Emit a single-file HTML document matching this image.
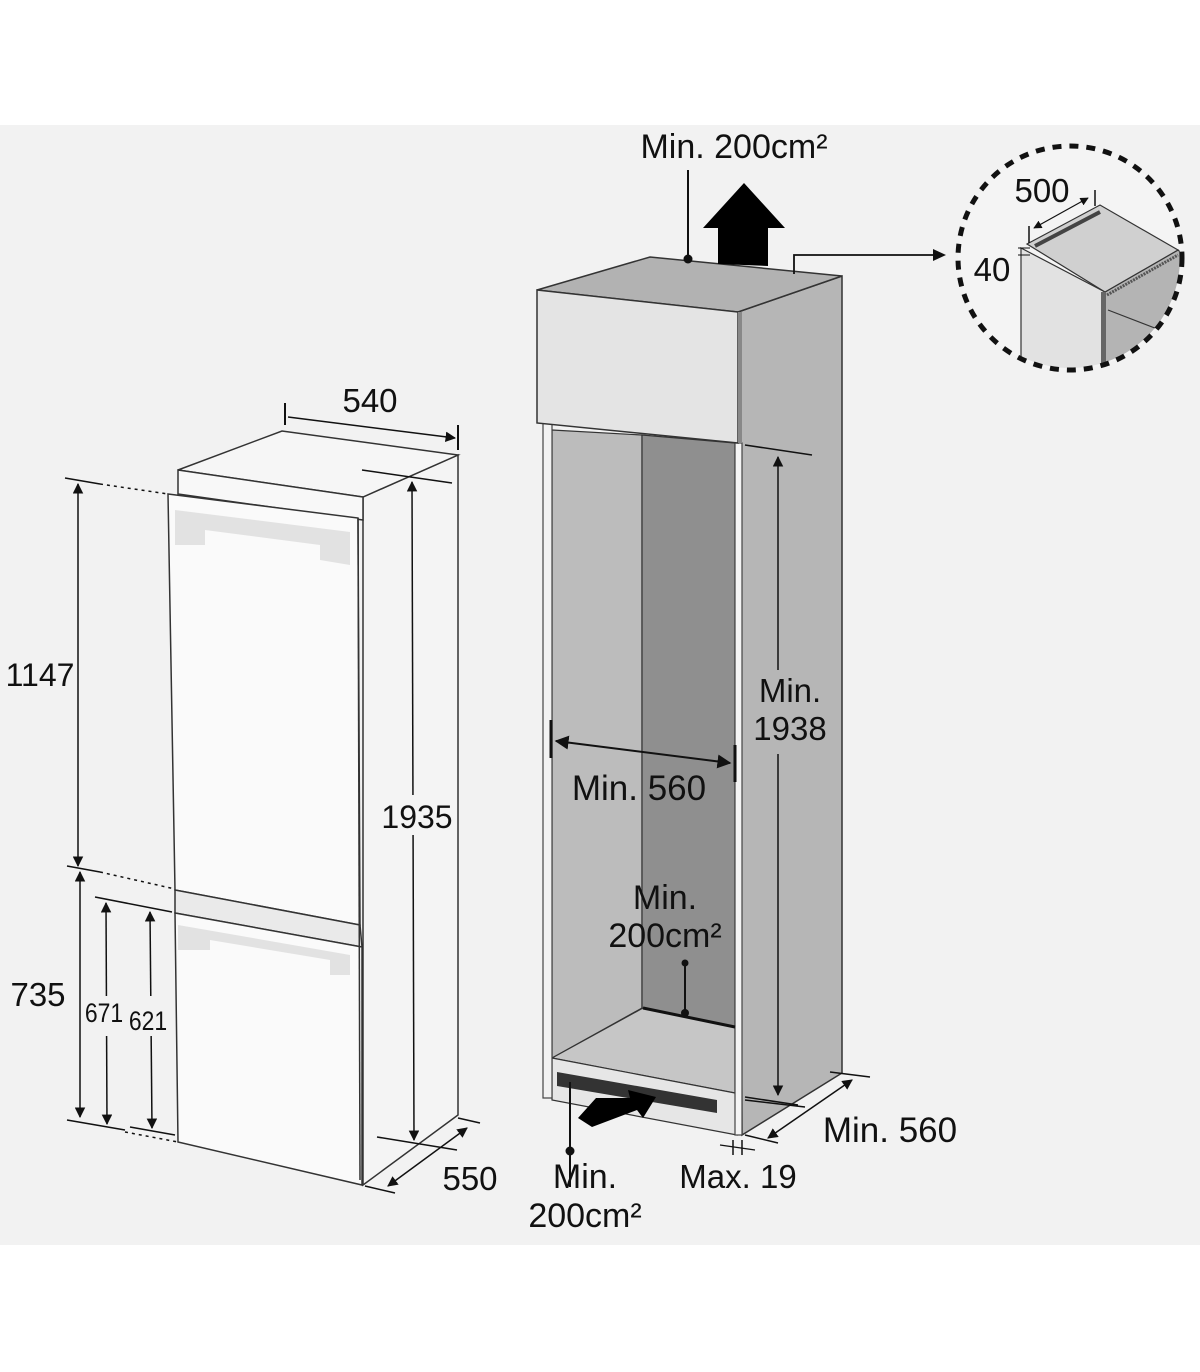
<!DOCTYPE html>
<html><head><meta charset="utf-8"><style>
html,body{margin:0;padding:0;background:#fff;}
svg{display:block;}
text{font-family:"Liberation Sans",sans-serif;fill:#111;}
</style></head><body>
<svg width="1200" height="1372" viewBox="0 0 1200 1372" xmlns="http://www.w3.org/2000/svg">
<defs>
<marker id="ah" viewBox="0 0 10 10" refX="9" refY="5" markerWidth="7" markerHeight="7" orient="auto-start-reverse"><path d="M0,0 L10,5 L0,10 z" fill="#111"/></marker>
<clipPath id="cc"><circle cx="1070" cy="258" r="110"/></clipPath>
</defs>
<rect x="0" y="125" width="1200" height="1120" fill="#f2f2f2"/>

<!-- LEFT FRIDGE -->
<polygon points="363,497 458,455 458,1115 363,1185" fill="#f4f4f4" stroke="#333" stroke-width="1.5"/>
<polygon points="178,470 282,431 458,455 363,497" fill="#f6f6f6" stroke="#333" stroke-width="1.5"/>
<polygon points="178,470 363,497 363,520 178,494" fill="#f8f8f8" stroke="#333" stroke-width="1.5"/>
<polygon points="168,494 358,518 360,925 175,890" fill="#fafafa" stroke="#333" stroke-width="1.5"/>
<polygon points="175,890 360,925 362,947 175,913" fill="#eaeaea" stroke="#333" stroke-width="1.5"/>
<polygon points="175,913 362,947 362,1185 178,1142" fill="#fafafa" stroke="#333" stroke-width="1.5"/>
<polygon points="175,510 350,532 350,565 320,560 320,545 205,530 205,545 175,545" fill="#dcdcdc" opacity="0.8"/>
<polygon points="178,925 350,955 350,975 330,975 330,960 210,940 210,950 178,950" fill="#dcdcdc" opacity="0.8"/>
<line x1="358" y1="518" x2="360" y2="1180" stroke="#333" stroke-width="1.5"/>

<!-- left dims -->
<line x1="285" y1="403" x2="285" y2="425" stroke="#111" stroke-width="2"/>
<line x1="458" y1="425" x2="458" y2="450" stroke="#111" stroke-width="2"/>
<line x1="288" y1="417" x2="455" y2="438" stroke="#111" stroke-width="1.5" marker-end="url(#ah)"/>
<text x="370" y="412" font-size="33" text-anchor="middle">540</text>
<line x1="362" y1="470" x2="452" y2="483" stroke="#111" stroke-width="1.5"/>
<line x1="412" y1="482" x2="414" y2="1140" stroke="#111" stroke-width="1.5" marker-start="url(#ah)" marker-end="url(#ah)"/>
<line x1="377" y1="1137" x2="457" y2="1150" stroke="#111" stroke-width="1.5"/>
<rect x="382" y="795" width="70" height="40" fill="#f4f4f4"/>
<text x="417" y="828" font-size="32" text-anchor="middle">1935</text>
<line x1="458" y1="1118" x2="480" y2="1123" stroke="#111" stroke-width="1.5"/>
<line x1="365" y1="1186" x2="395" y2="1193" stroke="#111" stroke-width="1.5"/>
<line x1="388" y1="1186" x2="467" y2="1128" stroke="#111" stroke-width="1.5" marker-start="url(#ah)" marker-end="url(#ah)"/>
<text x="470" y="1190" font-size="33" text-anchor="middle">550</text>

<line x1="65" y1="478" x2="100" y2="484" stroke="#111" stroke-width="1.5"/>
<line x1="100" y1="484" x2="168" y2="494" stroke="#111" stroke-width="1.5" stroke-dasharray="3 4"/>
<line x1="78" y1="484" x2="78" y2="866" stroke="#111" stroke-width="1.5" marker-start="url(#ah)" marker-end="url(#ah)"/>
<text x="40" y="686" font-size="32" text-anchor="middle">1147</text>
<line x1="67" y1="866" x2="100" y2="872" stroke="#111" stroke-width="1.5"/>
<line x1="100" y1="872" x2="175" y2="889" stroke="#111" stroke-width="1.5" stroke-dasharray="3 4"/>
<line x1="80" y1="872" x2="80" y2="1117" stroke="#111" stroke-width="1.5" marker-start="url(#ah)" marker-end="url(#ah)"/>
<text x="38" y="1006" font-size="33" text-anchor="middle">735</text>
<line x1="95" y1="897" x2="172" y2="912" stroke="#111" stroke-width="1.5"/>
<line x1="106" y1="903" x2="107" y2="1124" stroke="#111" stroke-width="1.5" marker-start="url(#ah)" marker-end="url(#ah)"/>
<line x1="150" y1="912" x2="152" y2="1128" stroke="#111" stroke-width="1.5" marker-start="url(#ah)" marker-end="url(#ah)"/>
<rect x="86" y="996" width="80" height="40" fill="#f2f2f2"/>
<text x="104" y="1022" font-size="27" text-anchor="middle" transform="translate(104 0) scale(0.85 1) translate(-104 0)">671</text>
<text x="148" y="1030" font-size="27" text-anchor="middle" transform="translate(148 0) scale(0.85 1) translate(-148 0)">621</text>
<line x1="67" y1="1120" x2="125" y2="1130" stroke="#111" stroke-width="1.5"/>
<line x1="130" y1="1127" x2="175" y2="1135" stroke="#111" stroke-width="1.5"/>
<line x1="125" y1="1132" x2="178" y2="1142" stroke="#111" stroke-width="1.5" stroke-dasharray="3 4"/>

<!-- CABINET -->
<polygon points="738,312 842,276 842,1073 742,1135" fill="#b6b6b6" stroke="#333" stroke-width="1.5"/>
<polygon points="552,430 642,435 642,1008 552,1058" fill="#bcbcbc" stroke="#333" stroke-width="1.2"/>
<polygon points="642,435 735,443 735,1027 642,1008" fill="#8f8f8f" stroke="#333" stroke-width="1.2"/>
<polygon points="552,1058 643,1008 735,1027 735,1093" fill="#c6c6c6" stroke="#333" stroke-width="1.2"/>
<polygon points="552,1058 735,1093 737,1135 552,1100" fill="#e6e6e6" stroke="#333" stroke-width="1.2"/>
<polygon points="557,1072 717,1100 717,1113 557,1086" fill="#333"/>
<rect x="543" y="423" width="9" height="675" fill="#f2f2f2" stroke="#444" stroke-width="1.2"/>
<rect x="735" y="443" width="7" height="692" fill="#f4f4f4" stroke="#444" stroke-width="1.2"/>
<polygon points="537,290 650,257 842,276 738,312" fill="#b2b2b2" stroke="#333" stroke-width="1.5"/>
<polygon points="537,290 738,312 738,443 537,423" fill="#e4e4e4" stroke="#333" stroke-width="1.5"/>
<rect x="738" y="312" width="4" height="131" fill="#888"/>

<!-- top arrow and labels -->
<polygon points="703,228 744,183 785,228 768,228 768,266 718,264 718,228" fill="#000"/>
<text x="734" y="158" font-size="34" text-anchor="middle">Min. 200cm²</text>
<line x1="688" y1="170" x2="688" y2="258" stroke="#111" stroke-width="2"/>
<circle cx="688" cy="259" r="4.5" fill="#111"/>
<polyline points="794,274 794,255 935,255" fill="none" stroke="#111" stroke-width="1.8"/>
<polygon points="946,255 933,249 933,261" fill="#111"/>

<!-- 1938 -->
<line x1="745" y1="445" x2="812" y2="455" stroke="#111" stroke-width="1.5"/>
<line x1="778" y1="457" x2="778" y2="1095" stroke="#111" stroke-width="1.5" marker-start="url(#ah)" marker-end="url(#ah)"/>
<line x1="745" y1="1097" x2="798" y2="1105" stroke="#111" stroke-width="1.5"/>
<rect x="750" y="670" width="80" height="84" fill="#b6b6b6"/>
<text x="790" y="702" font-size="33" text-anchor="middle">Min.</text>
<text x="790" y="740" font-size="33" text-anchor="middle">1938</text>

<!-- Min 560 interior -->
<line x1="551" y1="720" x2="551" y2="758" stroke="#111" stroke-width="3"/>
<line x1="735" y1="745" x2="735" y2="782" stroke="#111" stroke-width="3"/>
<line x1="556" y1="741" x2="730" y2="763" stroke="#111" stroke-width="2" marker-start="url(#ah)" marker-end="url(#ah)"/>
<text x="639" y="800" font-size="35" text-anchor="middle">Min. 560</text>

<!-- center vent -->
<text x="665" y="909" font-size="34" text-anchor="middle">Min.</text>
<text x="665" y="947" font-size="34" text-anchor="middle">200cm²</text>
<circle cx="685" cy="963" r="3.5" fill="#111"/>
<line x1="685" y1="963" x2="685" y2="1013" stroke="#111" stroke-width="2"/>
<circle cx="685" cy="1013" r="4" fill="#111"/>
<line x1="643" y1="1008" x2="735" y2="1027" stroke="#111" stroke-width="3"/>

<!-- bottom -->
<polygon points="578,1118 596,1098 630,1098 628,1090 656,1097 643,1118 637,1110 592,1127" fill="#000"/>
<line x1="570" y1="1082" x2="570" y2="1187" stroke="#111" stroke-width="2"/>
<circle cx="570" cy="1151" r="4.5" fill="#111"/>
<text x="585" y="1188" font-size="34" text-anchor="middle">Min.</text>
<text x="585" y="1227" font-size="34" text-anchor="middle">200cm²</text>
<text x="738" y="1188" font-size="33" text-anchor="middle">Max. 19</text>
<line x1="733" y1="1140" x2="733" y2="1155" stroke="#111" stroke-width="1.5"/>
<line x1="742" y1="1140" x2="742" y2="1155" stroke="#111" stroke-width="1.5"/>
<line x1="720" y1="1145" x2="755" y2="1150" stroke="#111" stroke-width="1.2"/>
<line x1="745" y1="1135" x2="778" y2="1143" stroke="#111" stroke-width="1.5"/>
<line x1="830" y1="1072" x2="870" y2="1077" stroke="#111" stroke-width="1.5"/>
<line x1="768" y1="1138" x2="852" y2="1080" stroke="#111" stroke-width="1.5" marker-start="url(#ah)" marker-end="url(#ah)"/>
<line x1="745" y1="1100" x2="805" y2="1107" stroke="#111" stroke-width="1.5"/>
<text x="890" y="1142" font-size="35" text-anchor="middle">Min. 560</text>

<!-- INSET -->
<circle cx="1070" cy="258" r="112" fill="#f4f4f4"/>
<g clip-path="url(#cc)">
<polygon points="1105,292 1178,250 1190,260 1190,400 1105,400" fill="#b4b4b4" stroke="#333" stroke-width="1.2"/>
<polygon points="1021,248 1105,292 1105,400 1021,400" fill="#e2e2e2" stroke="#333" stroke-width="1.2"/>
<polygon points="1027,244 1100,205 1178,250 1105,292" fill="#d0d0d0" stroke="#333" stroke-width="1.2"/>
<line x1="1035" y1="246" x2="1100" y2="212" stroke="#444" stroke-width="4"/>
<line x1="1107" y1="295" x2="1178" y2="255" stroke="#555" stroke-width="3" stroke-dasharray="2 1"/>
<rect x="1101" y="292" width="5" height="120" fill="#666"/>
<line x1="1108" y1="310" x2="1160" y2="330" stroke="#333" stroke-width="1.2"/>
</g>
<circle cx="1070" cy="258" r="112" fill="none" stroke="#111" stroke-width="5" stroke-dasharray="9 8"/>
<text x="1042" y="202" font-size="33" text-anchor="middle">500</text>
<line x1="1095" y1="190" x2="1095" y2="206" stroke="#111" stroke-width="1.5"/>
<line x1="1029" y1="226" x2="1029" y2="243" stroke="#111" stroke-width="1.5"/>
<line x1="1034" y1="228" x2="1088" y2="198" stroke="#111" stroke-width="1.2" marker-start="url(#ah)" marker-end="url(#ah)"/>
<text x="992" y="281" font-size="33" text-anchor="middle">40</text>
<line x1="1018" y1="248" x2="1030" y2="248" stroke="#111" stroke-width="1"/>
<line x1="1018" y1="255" x2="1030" y2="255" stroke="#111" stroke-width="1"/>
</svg>
</body></html>
